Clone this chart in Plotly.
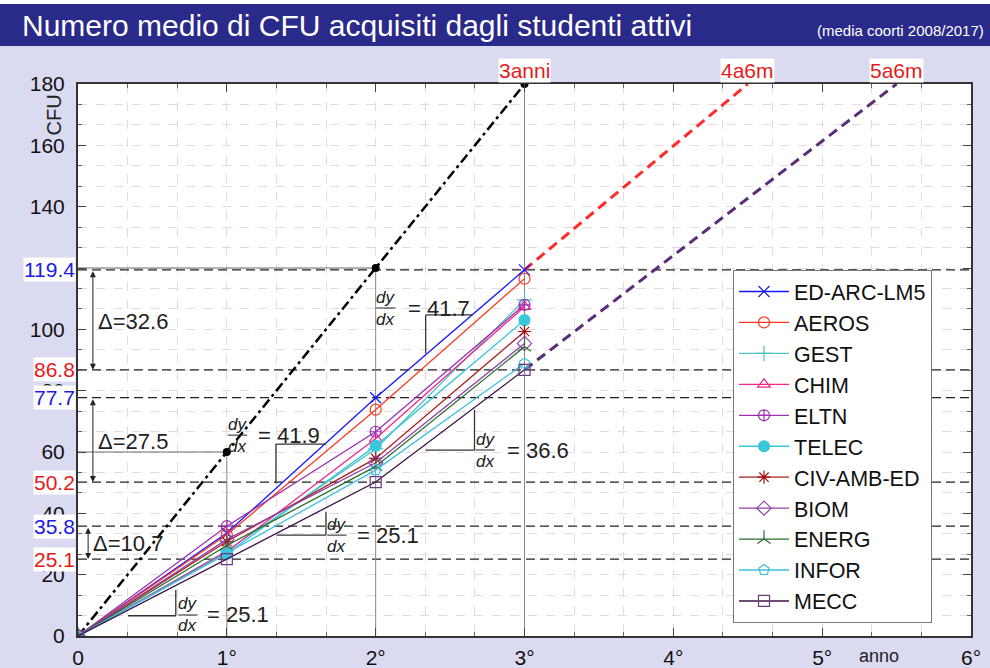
import plotly.graph_objects as go

# ---------------- data ----------------
years = [0, 1, 2, 3]
tick_vals = [0, 1, 2, 3, 4, 5, 6]
tick_text = ["0", "1°", "2°", "3°", "4°", "5°", "6°"]
y_tick_vals = [0, 20, 40, 60, 80, 100, 120, 140, 160, 180]
y_tick_text = ["0", "20", "40", "60", "80", "100", "", "140", "160", "180"]

series_names = ["ED-ARC-LM5", "AEROS", "GEST", "CHIM", "ELTN", "TELEC",
                "CIV-AMB-ED", "BIOM", "ENERG", "INFOR", "MECC"]
ed_arc_lm5 = [0, 33.6, 77.7, 119.4]
aeros = [0, 33.0, 73.8, 116.5]
gest = [0, 27.8, 61.0, 109.6]
chim = [0, 27.5, 64.4, 107.4]
eltn = [0, 35.8, 66.6, 108.0]
telec = [0, 26.8, 62.0, 103.0]
civ_amb_ed = [0, 30.8, 57.9, 99.3]
biom = [0, 31.5, 56.5, 95.4]
energ = [0, 29.5, 55.3, 94.3]
infor = [0, 27.0, 54.1, 88.9]
mecc = [0, 25.1, 50.2, 86.8]
series_values = [ed_arc_lm5, aeros, gest, chim, eltn, telec,
                 civ_amb_ed, biom, energ, infor, mecc]

# reference: 60 CFU per year (3 anni)
ref_years = [0, 1, 2, 3]
ref_cfu = [0, 60, 120, 180]
# extrapolations to 180 CFU
ext_4a6m_years = [3, 4.5]
ext_5a6m_years = [3, 5.5]
top_labels = ["3anni", "4a6m", "5a6m"]
top_label_years = [3, 4.5, 5.5]

# ---------------- styles ----------------
colors = ["#1414ff", "#ff3a20", "#4fc2c2", "#f0288c", "#9a30b0", "#3cc6da",
          "#a82020", "#9040a8", "#2a6e2a", "#3cc0e0", "#3c1048"]
marker_colors = ["#1414ff", "#ff3a20", "#4fc2c2", "#f0288c", "#9a30b0", "#3cc6da",
                 "#a01010", "#9040a8", "#2a6e2a", "#3cc0e0", "#6a3a80"]
symbols = ["x-thin-open", "circle-open", "cross-thin-open", "triangle-up-open",
           "circle-cross-open", "circle", "asterisk-open", "diamond-open",
           "y-up-open", "pentagon-open", "square-open"]

FONT = "Liberation Sans, Arial, sans-serif"
BG = "#dadaf0"
GRID = "#e6d9dd"

fig = go.Figure()

# reference dash-dot line with dots
fig.add_trace(go.Scatter(x=ref_years, y=ref_cfu, mode="lines", showlegend=False,
                         line=dict(color="black", width=2.5, dash="10px,4px,3px,4px"),
                         hoverinfo="skip"))
fig.add_trace(go.Scatter(x=ref_years[1:], y=ref_cfu[1:], mode="markers", showlegend=False,
                         marker=dict(color="black", size=8), hoverinfo="skip"))

max3 = max(v[3] for v in series_values)
min3 = min(v[3] for v in series_values)
max2 = max(v[2] for v in series_values)
min2 = min(v[2] for v in series_values)
max1 = max(v[1] for v in series_values)
min1 = min(v[1] for v in series_values)

# extrapolation lines
fig.add_trace(go.Scatter(x=ext_4a6m_years, y=[max3, ref_cfu[-1]], mode="lines", showlegend=False,
                         line=dict(color="#ff2a2a", width=3, dash="10px,6px"), hoverinfo="skip"))
fig.add_trace(go.Scatter(x=ext_5a6m_years, y=[min3, ref_cfu[-1]], mode="lines", showlegend=False,
                         line=dict(color="#5b2c7a", width=3, dash="10px,6px"), hoverinfo="skip"))

for name, vals, c, mc, s in zip(series_names, series_values, colors, marker_colors, symbols):
    fig.add_trace(go.Scatter(
        x=years, y=vals, name=name, mode="lines+markers",
        line=dict(color=c, width=1.3),
        marker=dict(symbol=s, size=11, color=mc, line=dict(color=mc, width=1.2)),
    ))

shapes = []
# title bar
px_x = lambda p: (p - 78) / 893.0
px_y = lambda p: (636 - p) / 552.0
shapes.append(dict(type="rect", xref="paper", yref="paper", x0=px_x(0), x1=px_x(990),
                   y0=px_y(4), y1=px_y(0), fillcolor="white", line=dict(width=0), layer="above"))
shapes.append(dict(type="rect", xref="paper", yref="paper", x0=px_x(0), x1=px_x(990),
                   y0=px_y(46), y1=px_y(4), fillcolor="#2a2a8a", line=dict(width=0), layer="above"))

# dashed level lines
for v in [max3, min3, max2, min2, max1, min1]:
    shapes.append(dict(type="line", xref="x", yref="y", x0=0, x1=6, y0=v, y1=v,
                       line=dict(color="#222", width=1.2, dash="9px,5px"), layer="between"))
# solid guide lines
for yr, cfu in zip(ref_years[1:], ref_cfu[1:]):
    shapes.append(dict(type="line", xref="x", yref="y", x0=yr, x1=yr, y0=0, y1=cfu,
                       line=dict(color="#8a8a8a", width=1), layer="between"))
for yr, cfu in zip(ref_years[1:3], ref_cfu[1:3]):
    shapes.append(dict(type="line", xref="x", yref="y", x0=0, x1=yr, y0=cfu, y1=cfu,
                       line=dict(color="#6a6a6a", width=1), layer="between"))

# slope triangles (horizontal + vertical legs)
tri = [
    # (hx0, hx1, hy, vx, vy0, vy1)
    (0.336, 0.657, 6.6, 0.657, 6.6, 15.0),
    (1.335, 1.666, 32.9, 1.666, 32.9, 40.5),
    (1.330, 1.666, 62.6, 1.330, 49.8, 62.6),
    (2.336, 2.654, 104.7, 2.336, 92.2, 104.7),
    (2.336, 2.664, 60.6, 2.664, 60.6, 73.7),
]
for hx0, hx1, hy, vx, vy0, vy1 in tri:
    shapes.append(dict(type="line", xref="x", yref="y", x0=hx0, x1=hx1, y0=hy, y1=hy,
                       line=dict(color="#333", width=1.3)))
    shapes.append(dict(type="line", xref="x", yref="y", x0=vx, x1=vx, y0=vy0, y1=vy1,
                       line=dict(color="#333", width=1.3)))

annotations = []
# slope labels
slopes = [
    (0.739, 6.85, mecc[1] - mecc[0], 0.853),
    (1.740, 32.9, min2 - min1, 1.861),
    (1.072, 65.5, max2 - max1, 1.196),
    (2.069, 106.95, max3 - max2, 2.204),
    (2.735, 60.65, min3 - min2, 2.869),
]
for fx, fy, val, tx in slopes:
    annotations.append(dict(x=fx, y=fy, xref="x", yref="y", text="<i>dy</i><br><i>dx</i>",
                            showarrow=False, font=dict(size=17, color="#222", family=FONT),
                            xanchor="center", yanchor="middle"))
    shapes.append(dict(type="line", xref="x", yref="y", x0=fx - 0.065, x1=fx + 0.065,
                       y0=fy, y1=fy, line=dict(color="#222", width=1)))
    annotations.append(dict(x=tx, y=fy, xref="x", yref="y", text=f"= {val:.1f}",
                            showarrow=False, font=dict(size=22, color="#222", family=FONT),
                            xanchor="left", yanchor="middle"))

# delta arrows and labels
deltas = [(0.10, max3, min3, 102.4), (0.10, max2, min2, 63.3), (0.068, max1, min1, 30.3)]
for ax_, hi, lo, ty in deltas:
    annotations.append(dict(x=ax_, y=lo, ax=ax_, ay=hi, xref="x", yref="y", axref="x", ayref="y",
                            text="", showarrow=True, arrowhead=2, arrowside="end+start",
                            arrowsize=1.2, arrowwidth=1, arrowcolor="#222",
                            standoff=0, startstandoff=0))
    annotations.append(dict(x=ax_ + 0.018, y=ty, xref="x", yref="y", text=f"Δ={hi - lo:.1f}",
                            showarrow=False, font=dict(size=22, color="#222", family=FONT),
                            xanchor="left", yanchor="middle"))

# coloured level labels on y axis
for v, c in [(max3, "#1a1ae6"), (min3, "#e61a1a"), (max2, "#1a1ae6"),
             (min2, "#e61a1a"), (max1, "#1a1ae6"), (min1, "#e61a1a")]:
    annotations.append(dict(x=-0.002, y=v, xref="paper", yref="y", text=f"{v:.1f}",
                            showarrow=False, font=dict(size=21, color=c, family=FONT),
                            xanchor="right", yanchor="middle", bgcolor="white", borderpad=0))

# top labels
for lab, yr in zip(top_labels, top_label_years):
    annotations.append(dict(x=yr, y=px_y(70.5), xref="x", yref="paper", text=lab,
                            showarrow=False, font=dict(size=21, color="#e61a1a", family=FONT),
                            xanchor="center", yanchor="middle", bgcolor="white", borderpad=0))

# title texts
annotations.append(dict(x=px_x(20), y=px_y(25), xref="paper", yref="paper",
                        text="Numero medio di CFU acquisiti dagli studenti attivi",
                        showarrow=False, font=dict(size=30, color="white", family=FONT),
                        xanchor="left", yanchor="middle"))
annotations.append(dict(x=px_x(986), y=px_y(31), xref="paper", yref="paper",
                        text="(media coorti 2008/2017)",
                        showarrow=False, font=dict(size=15, color="white", family=FONT),
                        xanchor="right", yanchor="middle"))
# axis labels
annotations.append(dict(x=px_x(53.5), y=px_y(115), xref="paper", yref="paper", text="CFU",
                        textangle=-90, showarrow=False,
                        font=dict(size=20, color="#222", family=FONT),
                        xanchor="center", yanchor="middle"))
annotations.append(dict(x=px_x(879), y=px_y(656), xref="paper", yref="paper", text="anno",
                        showarrow=False, font=dict(size=18, color="#222", family=FONT),
                        xanchor="center", yanchor="middle"))

axis_common = dict(
    showline=True, linecolor="#333", linewidth=2, mirror="ticks",
    ticks="inside", ticklen=8, tickcolor="#444",
    showgrid=True, gridcolor=GRID, griddash="dash", gridwidth=1,
    zeroline=False, tickfont=dict(size=21, color="#111", family=FONT),
    automargin=False,
)

fig.update_layout(
    width=990, height=668,
    margin=dict(l=78, r=19, t=84, b=32, autoexpand=False),
    paper_bgcolor=BG, plot_bgcolor="white",
    font=dict(family=FONT),
    xaxis=dict(range=[0, 6], tickvals=tick_vals, ticktext=tick_text,
               minor=dict(dtick=1 / 3, ticks="inside", ticklen=4, tickcolor="#666",
                          showgrid=True, gridcolor=GRID, griddash="dash"),
               ticklabelstandoff=2, **axis_common),
    yaxis=dict(range=[0, 180], tickvals=y_tick_vals, ticktext=y_tick_text,
               minor=dict(dtick=20 / 3, ticks="inside", ticklen=4, tickcolor="#666",
                          showgrid=True, gridcolor=GRID, griddash="dash"),
               ticklabelstandoff=7, **axis_common),
    legend=dict(x=px_x(733), y=px_y(270), xanchor="left", yanchor="top",
                bgcolor="white", bordercolor="#777", borderwidth=1,
                font=dict(size=21.5, color="#111", family=FONT), itemwidth=50),
    shapes=shapes,
    annotations=annotations,
    showlegend=True,
)

fig.write_html("out.html", config={"displayModeBar": False},
               post_script="document.body.style.margin='0px';document.body.style.overflow='hidden';")
